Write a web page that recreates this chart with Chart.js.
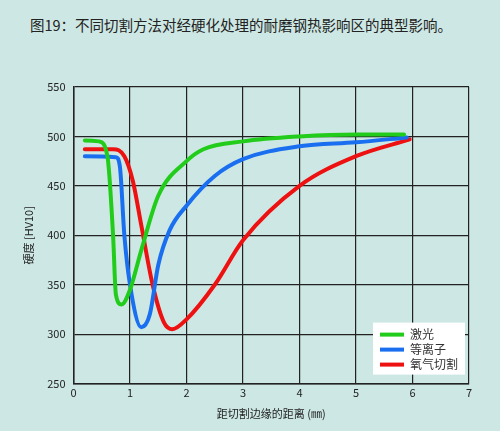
<!DOCTYPE html>
<html>
<head>
<meta charset="utf-8">
<script src="https://cdn.jsdelivr.net/npm/chart.js@4"></script>
<style>
  body { margin: 0; background: #cde8e4; }
  #wrap { position: relative; width: 500px; height: 431px; }
  h1 { position: absolute; left: 30px; top: 14px; margin: 0; font: 14.5px "Noto Sans CJK SC", sans-serif; color: #222; }
  #box { position: absolute; left: 0; top: 68px; width: 490px; height: 356px; }
</style>
</head>
<body>
<div id="wrap">
  <h1>图19：不同切割方法对经硬化处理的耐磨钢热影响区的典型影响。</h1>
  <div id="box"><canvas id="chart"></canvas></div>
</div>
<script>
// series: [distance mm, hardness HV10]
const seriesLabels = ['激光', '等离子', '氧气切割'];
const seriesColors = ['#22cc1a', '#1a6ff0', '#ee1111'];
const laser = [[0.2,496],[0.45,495],[0.6,480],[0.7,400],[0.75,340],[0.85,330],[1.0,345],[1.2,385],[1.5,440],[2.0,475],[2.3,487],[3,495],[4,500],[5,502],[5.85,502]];
const plasma = [[0.2,480],[0.75,479],[0.82,470],[0.9,400],[1.0,350],[1.2,307],[1.35,320],[1.5,370],[1.7,405],[2,430],[2.5,460],[3,477],[4,490],[5,494],[5.9,499]];
const oxy = [[0.2,487],[0.7,487],[0.9,480],[1.05,455],[1.2,410],[1.4,350],[1.6,312],[1.75,305],[2,315],[2.5,350],[3,395],[4,450],[5,480],[5.95,497]];
const allSeries = [laser, plasma, oxy];

const font = { family: 'Noto Sans CJK SC', size: 11 };

// legend drawn inside the plot, bottom right, on a white box
const insideLegend = {
    id: 'insideLegend',
    afterDatasetsDraw(chart) {
        const { ctx, chartArea } = chart;
        const w = 92, h = 52;
        const x = chartArea.right - w - 4, y = chartArea.bottom - h - 9;
        ctx.save();
        ctx.fillStyle = '#fff';
        ctx.fillRect(x, y, w, h);
        ctx.font = '12px "Noto Sans CJK SC"';
        ctx.textBaseline = 'middle';
        seriesLabels.forEach((lab, i) => {
            const ly = y + 12 + i * 15;
            ctx.strokeStyle = seriesColors[i];
            ctx.lineWidth = 4;
            ctx.beginPath();
            ctx.moveTo(x + 7, ly);
            ctx.lineTo(x + 31, ly);
            ctx.stroke();
            ctx.fillStyle = '#333';
            ctx.fillText(lab, x + 37, ly);
        });
        ctx.restore();
    }
};

new Chart(document.getElementById('chart'), {
    type: 'line',
    data: {
        datasets: allSeries.map((s, i) => ({
            label: seriesLabels[i],
            data: s.map(p => ({ x: p[0], y: p[1] })),
            borderColor: seriesColors[i],
            borderWidth: 4,
            pointRadius: 0,
            cubicInterpolationMode: 'monotone',
            borderCapStyle: 'round'
        }))
    },
    options: {
        responsive: true,
        maintainAspectRatio: false,
        animation: false,
        layout: { padding: { top: 19, left: 18, right: 21 } },
        plugins: { legend: { display: false }, tooltip: { enabled: false } },
        scales: {
            x: {
                type: 'linear', min: 0, max: 7,
                ticks: { stepSize: 1, color: '#222', font: font },
                grid: { color: '#222', lineWidth: 1.2, drawTicks: false },
                border: { color: '#222', width: 1.5 },
                title: { display: true, text: '距切割边缘的距离 (㎜)', color: '#222', font: font }
            },
            y: {
                min: 250, max: 550,
                ticks: { stepSize: 50, color: '#222', font: font, padding: 8 },
                grid: { color: '#222', lineWidth: 1.2, drawTicks: false },
                border: { color: '#222', width: 1.5 },
                title: { display: true, text: '硬度 [HV10]', color: '#222', font: font }
            }
        }
    },
    plugins: [insideLegend]
});
</script>
</body>
</html>
